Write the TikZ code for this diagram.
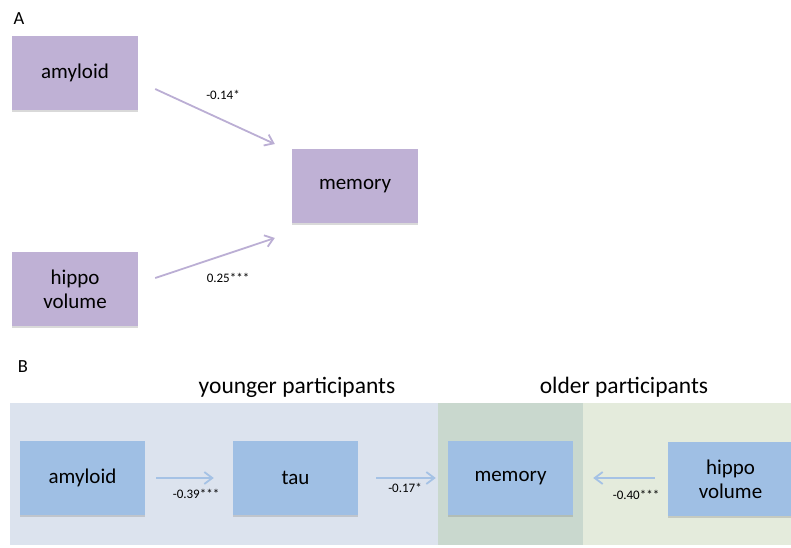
\documentclass[tikz,border=0pt]{standalone}
\usepackage{fontspec}
\setmainfont{Carlito}
\usetikzlibrary{arrows.meta,shadows,calc}
\definecolor{purpbox}{HTML}{BFB1D5}
\definecolor{purparrow}{HTML}{BBAED4}
\definecolor{bluebox}{HTML}{9FBFE4}
\definecolor{bluearrow}{HTML}{A5C2E5}
\definecolor{bgblue}{HTML}{DCE3EE}
\definecolor{bgdark}{HTML}{C9D8CE}
\definecolor{bglight}{HTML}{E4EBDC}
\tikzset{
  boxbase/.style={rectangle, minimum width=126pt, minimum height=74pt, inner sep=0pt,
    align=center, font=\fontsize{21}{24}\selectfont, text=black,
    drop shadow={shadow xshift=0pt, shadow yshift=-2pt, opacity=0.3, fill=gray}},
  purplebox/.style={boxbase, fill=purpbox},
  bluenode/.style={boxbase, fill=bluebox, minimum width=125pt},
  arrA/.style={draw=purparrow, line width=1.8pt, -{Straight Barb[length=8pt,width=12pt]}},
  arrB/.style={draw=bluearrow, line width=1.8pt, -{Straight Barb[length=8pt,width=12pt]}},
  coef/.style={font=\fontsize{13}{15}\selectfont, text=black, inner sep=0pt},
  panel/.style={font=\fontsize{18.5}{20}\selectfont, text=black, inner sep=0pt},
  grouptitle/.style={font=\fontsize{23.5}{26}\selectfont, text=black, inner sep=0pt, anchor=base}
}
\begin{document}
\begin{tikzpicture}[x=1pt,y=-1pt]
\useasboundingbox (0,0) rectangle (791,547);
% panel B backgrounds
\fill[bgblue] (10,403) rectangle (438,545);
\fill[bgdark] (438,403) rectangle (583,545);
\fill[bglight] (583,403) rectangle (791,545);

% panel labels
\node[panel] (labA) at (19,19) {A};
\node[panel] (labB) at (23,367) {B};

% panel A
\node[purplebox] (amyA) at (75,73) {amyloid};
\node[purplebox] (hipA) at (75,289) {hippo\\volume};
\node[purplebox] (memA) at (355,186) {memory};
\draw[arrA] ($(amyA.east)+(17,16)$) -- ($(memA.west)+(-17,-42)$);
\draw[arrA] ($(hipA.east)+(17,-11)$) -- ($(memA.west)+(-17,52)$);
\node[coef] (c1) at (223,95) {-0.14*};
\node[coef] (c2) at (228,278) {0.25***};

% panel B
\node[grouptitle] (young) at (297,393) {younger participants};
\node[grouptitle] (old) at (624,393) {older participants};
\node[bluenode] (amyB) at (82.5,478) {amyloid};
\node[bluenode] (tauB) at (295.5,478) {tau};
\node[bluenode] (memB) at (510.5,478) {memory};
\node[bluenode] (hipB) at (730.5,479) {hippo\\volume};
\draw[arrB, shorten <=11pt, shorten >=19pt] (amyB.east) -- (tauB.west);
\draw[arrB, shorten <=18pt, shorten >=12pt] (tauB.east) -- (memB.west);
\draw[arrB, shorten <=13pt, shorten >=20pt] (hipB.west |- memB.east) -- (memB.east);
\node[coef] (c3) at (196,494) {-0.39***};
\node[coef] (c4) at (405,488) {-0.17*};
\node[coef] (c5) at (636,495) {-0.40***};
\end{tikzpicture}
\end{document}
